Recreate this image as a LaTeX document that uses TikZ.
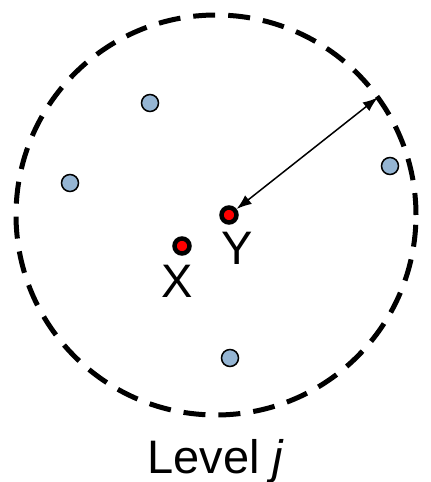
\documentclass[tikz,border=0pt]{standalone}
\usepackage{fontspec}
\setmainfont{Liberation Sans}
\usetikzlibrary{arrows.meta,positioning}
\definecolor{ptblue}{RGB}{149,181,211}
\tikzset{
  levelcircle/.style={
    draw,
    circle,
    line width=5pt,
    dash pattern=on 22pt off 13pt,
    minimum size=400pt,
    inner sep=0pt,
    outer sep=0pt
  },
  sample/.style={draw, circle, line width=1.5pt, fill=ptblue, minimum size=17pt, inner sep=0pt},
  query/.style={draw, circle, line width=4.5pt, fill=red, minimum size=15pt, inner sep=0pt},
  biglabel/.style={inner sep=0pt, font=\fontsize{47}{52}\selectfont},
  radius/.style={{Latex[length=15pt,width=11pt]}-{Latex[length=15pt,width=11pt]}, line width=1.5pt}
}
\begin{document}
\begin{tikzpicture}[x=1pt, y=1pt]
\useasboundingbox (0,0) rectangle (431,482);
\node[levelcircle] (level) at (216,267) {};
% sample points
\node[sample] (s1) at (150,379) {};
\node[sample] (s2) at (70,299) {};
\node[sample] (s3) at (390,316) {};
\node[sample] (s4) at (230,124) {};
% query points
\node[query] (x) at (182,236) {};
\node[query] (y) at (229,267) {};
\node[biglabel, below=9pt of x, xshift=-5pt] (xlab) {X};
\node[biglabel, below=7pt of y, xshift=8pt] (ylab) {Y};
\node[biglabel, below=24pt of level] (levlab) {Level \textit{j}};

\draw[radius] (y) -- (level.36);
\end{tikzpicture}
\end{document}
